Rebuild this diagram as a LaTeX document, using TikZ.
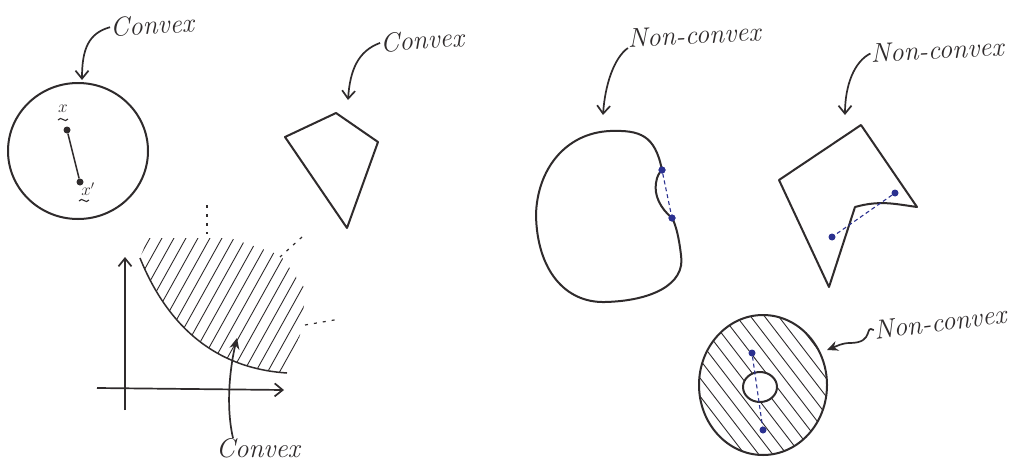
\documentclass[tikz,border=0pt]{standalone}
\usepackage{amsmath}
\usetikzlibrary{arrows.meta}
\definecolor{pen}{HTML}{2F2B2C}
\definecolor{dotblue}{HTML}{2B3190}
\tikzset{outline/.style={draw=pen,line width=2pt,line join=round},
  hand/.style={-{Straight Barb[length=8pt,width=13pt]},line width=1.7pt,draw=pen},
  handfill/.style={-{Stealth[length=11pt,width=10pt]},line width=1.7pt,draw=pen},
  lbl/.style={font=\fontsize{27}{30}\selectfont\itshape,text=pen,inner sep=0pt},
  mathlbl/.style={font=\fontsize{18}{20}\selectfont,text=pen,inner sep=0pt},
  tildemark/.style={draw=pen,line width=1.1pt},
  hatch/.style={draw=pen,line width=0.9pt},
  chord/.style={draw=dotblue,line width=1.1pt,dash pattern=on 4pt off 3pt},
  bluedot/.style={circle,fill=dotblue,inner sep=0pt,minimum size=7pt},
  blackdot/.style={circle,fill=pen,inner sep=0pt,minimum size=7pt},
  fleck/.style={draw=pen,line width=1.2pt,dash pattern=on 3pt off 6pt}}
\begin{document}
\begin{tikzpicture}[x=1pt,y=-1pt]
\fill[white] (0,0) rectangle (1014,463);
\useasboundingbox (0,0) rectangle (1014,463);
% convex disc
\draw[outline] (78,151) ellipse [x radius=70,y radius=68];
\node[blackdot] (xa) at (67,130) {};
\node[blackdot] (xb) at (80,182) {};
\draw[outline,line width=1.5pt] (xa) -- (xb);
\node[mathlbl] (xal) at (63,109) {$x$};
\draw[tildemark] (58,120) .. controls (61,115) and (65,124) .. (68,119);
\node[mathlbl] (xbl) at (88,189) {$x'$};
\draw[tildemark] (79,201) .. controls (82,196) and (86,205) .. (89,200);
\node[lbl,rotate=3] (cx1) at (152,25) {Convex};
\coordinate (h1) at (82,80);
\draw[hand] (cx1.west) .. controls +(-22,6) and +(0,-30) .. (h1);
% convex quadrilateral
\draw[outline] (285,137) -- (336,113) -- (378,142) -- (347,228) -- cycle;
\node[lbl,rotate=4] (cx2) at (422,40) {Convex};
\coordinate (h2) at (348,100);
\draw[hand] (cx2.west) .. controls +(-22,8) and +(2,-30) .. (h2);
% epigraph
\begin{scope}
\clip (140,258) .. controls (165,320) and (210,368) .. (287,373) -- (300,335) -- (306,290) -- (280,255) -- (230,238) -- (148,238) -- cycle;
\foreach \s in {0,12,...,264}{\draw[hatch] (60+\s,400) -- ++(120,-216);}
\end{scope}
\draw[outline,line width=1.5pt] (140,258) .. controls (165,320) and (210,368) .. (287,373);
\coordinate (yb) at (125,410);
\coordinate (yt) at (125,257);
\coordinate (xl) at (97,388);
\coordinate (xr) at (284,390);
\draw[hand] (yb) -- (yt);
\draw[hand] (xl) -- (xr);
\draw[fleck] (207,205) -- (207,234);
\draw[fleck] (302,237) -- (280,257);
\draw[fleck] (305,325) -- (340,319);
\node[lbl] (cx3) at (258,448) {Convex};
\coordinate (h6) at (237,338);
\draw[handfill] ([xshift=-25pt]cx3.north) .. controls +(-8,-35) and +(-6,25) .. (h6);
% non-convex blob
\node[bluedot] (k1) at (662,170) {};
\node[bluedot] (k2) at (672,218) {};
\draw[outline] (k1.center) .. controls (655,135) and (640,130) .. (610,131) .. controls (565,133) and (537,170) .. (536,215) .. controls (537,270) and (565,303) .. (605,302) .. controls (650,301) and (686,285) .. (681,255) .. controls (679,238) and (676,225) .. (k2.center) .. controls (660,208) and (654,195) .. (656,183) .. controls (657,176) and (659,173) .. (k1.center);
\draw[chord] (k1) -- (k2);
\node[bluedot] at (k1) {};
\node[bluedot] at (k2) {};
\node[lbl,rotate=3] (nc1) at (694,35) {Non-convex};
\coordinate (h3) at (603,115);
\draw[hand] (nc1.south west) .. controls +(-14,10) and +(2,-30) .. (h3);
% non-convex polygon
\draw[outline] (861,125) -- (917,207) .. controls (895,204) and (880,200) .. (855,207) -- (829,287) -- (779,180) -- cycle;
\node[bluedot] (p1) at (895,193) {};
\node[bluedot] (p2) at (832,237) {};
\draw[chord] (p1) -- (p2);
\node[lbl,rotate=3] (nc2) at (937,50) {Non-convex};
\coordinate (h4) at (845,115);
\draw[hand] (nc2.west) .. controls +(-16,8) and +(0,-30) .. (h4);
% annulus
\begin{scope}
\clip (763,385) ellipse [x radius=64,y radius=70];
\foreach \s in {0,14,...,252}{\draw[hatch] (570+\s,300) -- ++(130,169);}
\end{scope}
\fill[white] (760,387) ellipse [x radius=17,y radius=15];
\draw[outline] (763,385) ellipse [x radius=64,y radius=70];
\draw[outline] (760,387) ellipse [x radius=17,y radius=15];
\node[bluedot] (a1) at (752,353) {};
\node[bluedot] (a2) at (763,430) {};
\draw[chord] (a1) -- (a2);
\node[lbl,rotate=7] (nc3) at (940,322) {Non-convex};
\coordinate (h5) at (827,350);
\draw[handfill] (nc3.west) .. controls +(-10,-6) and +(25,0) .. (850,343) .. controls +(-8,0) and +(10,-4) .. (h5);
\end{tikzpicture}
\end{document}
